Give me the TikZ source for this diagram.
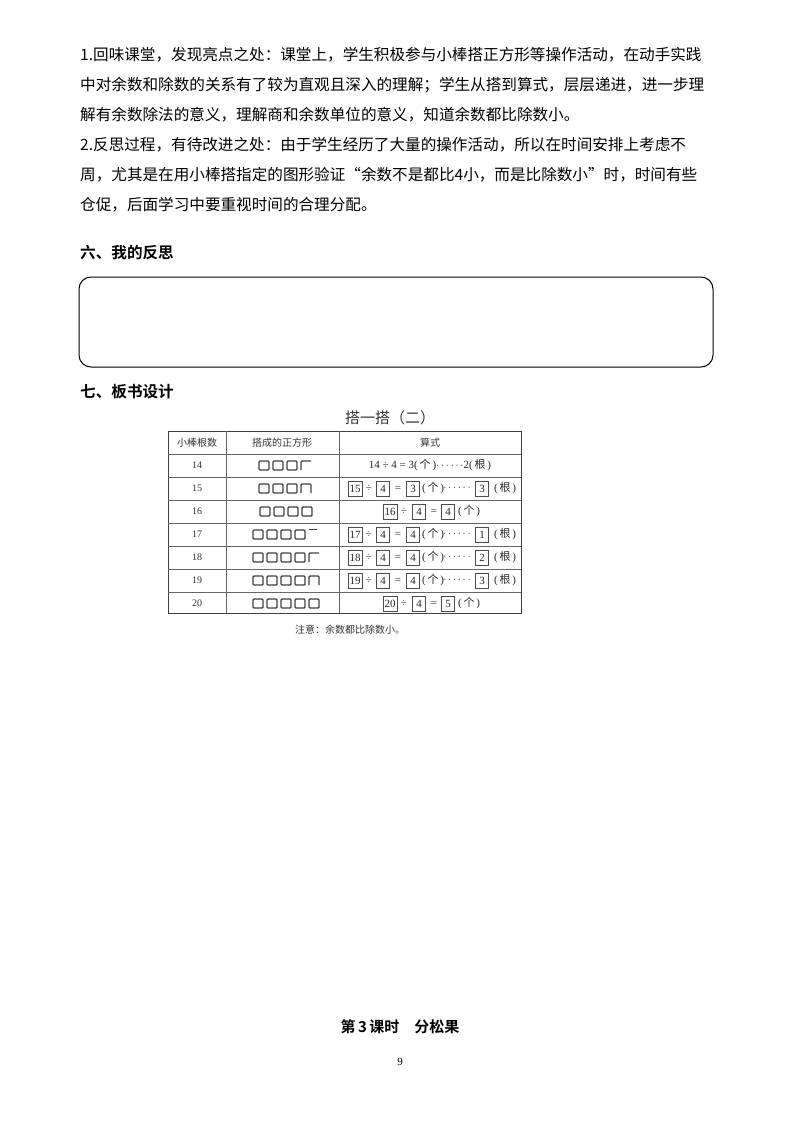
\documentclass[tikz,border=0pt]{standalone}
\usepackage{fontspec}
\setmainfont{Liberation Serif}
\newfontfamily\cjk{Noto Sans CJK SC}
\newfontfamily\cjkb{Noto Sans CJK SC Bold}
\begin{document}
\begin{tikzpicture}[x=1pt,y=-1pt,
  para/.style={anchor=west,inner sep=0pt,font=\cjk\fontsize{15.6}{16}\selectfont},
  head/.style={anchor=west,inner sep=0pt,font=\cjkb\fontsize{15.6}{16}\selectfont},
  cell/.style={inner sep=0pt,font=\cjk\fontsize{10}{11}\selectfont,text=black!80},
  bx/.style={draw=black!70,line width=0.5pt,inner sep=1.5pt,minimum height=15pt,minimum width=13pt},
  sq/.style={draw=black!75,line width=1.4pt,rounded corners=1pt},
  tl/.style={draw=black!60,line width=0.5pt}]
\useasboundingbox (0,0) rectangle (800,1132);
\node[para] (l1) at (80,55) {1.回味课堂，发现亮点之处：课堂上，学生积极参与小棒搭正方形等操作活动，在动手实践};
\node[para] (l2) at (80,85) {中对余数和除数的关系有了较为直观且深入的理解；学生从搭到算式，层层递进，进一步理};
\node[para] (l3) at (80,115) {解有余数除法的意义，理解商和余数单位的意义，知道余数都比除数小。};
\node[para] (l4) at (80,145) {2.反思过程，有待改进之处：由于学生经历了大量的操作活动，所以在时间安排上考虑不};
\node[para] (l5) at (80,175) {周，尤其是在用小棒搭指定的图形验证“余数不是都比4小，而是比除数小”时，时间有些};
\node[para] (l6) at (80,205) {仓促，后面学习中要重视时间的合理分配。};
\node[head] (h6) at (80,253) {六、我的反思};
\draw[line width=1pt,rounded corners=12pt] (79,277) rectangle (713,367);
\node[head] (h7) at (80,392) {七、板书设计};
\node[inner sep=0pt,font=\cjk\fontsize{15}{16}\selectfont,text=black!80] (title) at (390,418) {搭一搭（二）};
% table
\draw[line width=1pt,draw=black!75] (168,431) rectangle (521,613);
\foreach \y in {454,477,500,523,546,569,592} \draw[tl] (168,\y) -- (521,\y);
\draw[tl] (226,431) -- (226,613);
\draw[tl] (339,431) -- (339,613);
\node[cell] (c1) at (197,442.5) {小棒根数};
\node[cell] (c2) at (282,442.5) {搭成的正方形};
\node[cell] (c3) at (430,442.5) {算式};
\foreach \n [count=\i from 0] in {14,15,16,17,18,19,20}
  \node[cell,font=\fontsize{10}{11}\selectfont] (n\n) at (197,465.5+23*\i) {\n};
% squares
\def\sqs#1#2#3{\foreach \k in {1,...,#2}{\draw[sq] (#1+14*\k-14,#3-4.5) rectangle ++(10,9);}}
\sqs{259}{3}{465.5}
\draw[sq] (301,470) -- (301,461) -- (311,461);
\sqs{259}{3}{488.5}
\draw[sq] (301,493) -- (301,484) -- (311,484) -- (311,493);
\sqs{260}{4}{511.5}
\sqs{253}{4}{534.5}
\draw[sq,line width=0.8pt] (309,529) -- (317,529);
\sqs{253}{4}{557.5}
\draw[sq] (309,562) -- (309,553) -- (319,553);
\sqs{253}{4}{580.5}
\draw[sq] (309,585) -- (309,576) -- (319,576) -- (319,585);
\sqs{253}{5}{603.5}
% equations
\begin{scope}[every node/.style={inner sep=0pt,font=\fontsize{11}{12}\selectfont,text=black!85}]
\node (e14) at (430,465.5) {14 ÷ 4 = 3(\,\cjk 个\rmfamily\,)$\cdots\cdots$2(\,\cjk 根\rmfamily\,)};
\foreach \y/\a/\q/\r in {488.5/15/3/3,534.5/17/4/1,557.5/18/4/2,580.5/19/4/3}{
  \node[bx] at (355,\y) {\a};
  \node at (369,\y) {÷};
  \node[bx] at (383,\y) {4};
  \node at (398,\y) {=};
  \node[bx] at (413,\y) {\q};
  \node at (433,\y) {(\,\cjk 个\rmfamily\,)};
  \node at (457,\y) {$\cdots\cdots$};
  \node[bx] at (482,\y) {\r};
  \node at (505,\y) {(\,\cjk 根\rmfamily\,)};
}
\foreach \y/\a/\q in {511.5/16/4,603.5/20/5}{
  \node[bx] at (390,\y) {\a};
  \node at (404,\y) {÷};
  \node[bx] at (419,\y) {4};
  \node at (434,\y) {=};
  \node[bx] at (448,\y) {\q};
  \node at (469,\y) {(\,\cjk 个\rmfamily\,)};
}
\end{scope}
\node[inner sep=0pt,font=\cjk\fontsize{10}{11}\selectfont,text=black!80] (note) at (350,630) {注意：余数都比除数小。};
\node[inner sep=0pt,font=\cjkb\fontsize{15}{16}\selectfont] (les) at (400,1027) {第\,3\,课时\quad 分松果};
\node[inner sep=0pt,font=\fontsize{11}{12}\selectfont] (pg) at (400,1062) {9};
\end{tikzpicture}
\end{document}
